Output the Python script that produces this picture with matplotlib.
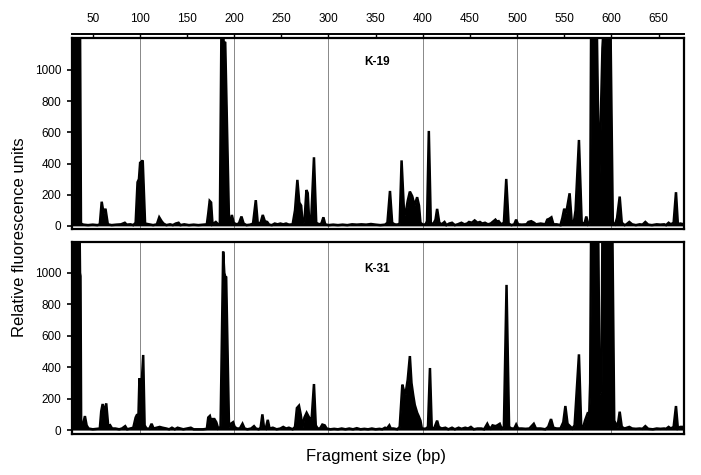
import matplotlib
matplotlib.use("Agg")
import matplotlib.pyplot as plt
import numpy as np

plt.rcParams['font.family'] = ['Liberation Sans', 'DejaVu Sans']

# ---- data: electropherogram traces (fragment size bp, relative fluorescence units) ----
k19_trace = [
    (28.5, 10), (29.5, 1300), (36.5, 1300), (37.5, 15), (40, 8), (45, 5), (50, 8), (55, 5),
    (57.5, 10), (59.5, 155), (61.5, 80), (63.5, 110), (66, 10), (70, 5), (75, 8), (80, 10),
    (84, 20), (86, 8), (90, 10), (93, 5), (95.5, 20), (97.5, 280), (99, 300), (100.3, 410),
    (101, 405), (103, 420), (105.5, 15), (110, 10), (114, 5), (118, 10), (120.5, 55), (123, 30),
    (125, 15), (128, 5), (132, 10), (135, 5), (138, 15), (141, 20), (143, 5), (147, 10),
    (152, 5), (157, 8), (162, 5), (167, 8), (171, 10), (172.5, 80), (174, 160), (175.5, 150),
    (177, 10), (180.5, 25), (183, 10), (184.8, 10), (186.5, 1300), (188, 1300), (188.8, 1180),
    (190.5, 1175), (194.5, 30), (196, 20), (197.5, 70), (199.5, 20), (202, 10), (205, 15),
    (207.7, 60), (210, 15), (213, 5), (217, 8), (220, 15), (222.9, 165), (225, 15), (228, 20),
    (230.3, 70), (232.5, 30), (235, 25), (237, 8), (240, 5), (243, 15), (246, 10), (249, 15),
    (252, 10), (255, 15), (258, 8), (262, 10), (264.5, 100), (267, 295), (269, 150), (271, 130),
    (272.5, 20), (274.5, 30), (276.6, 230), (278, 210), (279.5, 30), (281.5, 20), (284.6, 440),
    (287, 20), (290, 10), (292.5, 15), (294.6, 55), (296.5, 10), (300, 5), (305, 8), (310, 5),
    (315, 8), (320, 5), (325, 10), (330, 8), (335, 10), (340, 8), (345, 12), (350, 8), (355, 5),
    (360, 8), (362.5, 20), (365.2, 224), (367.5, 20), (370, 10), (373, 8), (375.5, 15),
    (377.5, 420), (380, 100), (381.5, 70), (384, 160), (386.3, 220), (388.8, 190), (391.3, 130),
    (394, 184), (396, 130), (397.5, 20), (400, 8), (403, 10), (404.5, 30), (406.4, 609),
    (408.5, 20), (411, 10), (413.5, 40), (415.2, 109), (417.5, 20), (420, 10), (423, 25),
    (425, 5), (428, 15), (431, 20), (434, 5), (437, 10), (441, 20), (444, 10), (447, 15),
    (449, 25), (452, 20), (455, 35), (458, 20), (460.6, 25), (463, 15), (466, 20), (469, 10),
    (472, 15), (475, 30), (477, 40), (479, 25), (480.5, 30), (483, 10), (486, 20), (488.5, 301),
    (491, 15), (494, 5), (497, 10), (499, 40), (501, 10), (505, 8), (510, 10), (512, 25),
    (515, 30), (518, 20), (520, 10), (525, 15), (530, 10), (532, 40), (534, 45), (536.4, 55),
    (538.5, 10), (542, 10), (546, 5), (548, 50), (550, 110), (552, 80), (555.7, 209), (558, 20),
    (560, 15), (562, 100), (565.6, 551), (568.5, 20), (571.5, 15), (573.4, 60), (575.5, 10),
    (577.5, 20), (578.5, 1300), (584.5, 1300), (587, 230), (590.5, 1140), (592, 1300),
    (599, 1300), (601.5, 20), (604, 10), (606, 50), (608.8, 188), (611, 20), (614, 5), (616, 10),
    (619, 25), (622, 10), (626, 5), (630, 10), (633, 8), (636, 25), (639, 8), (643, 5), (648, 10),
    (652, 8), (656, 10), (658, 5), (660.7, 20), (663, 10), (666, 20), (668.5, 216), (670.5, 10),
    (673, 15), (677, 10),
]

k31_trace = [
    (28.5, 10), (29.5, 1300), (36, 1300), (36.5, 1000), (37, 980), (37.7, 20), (39.5, 30),
    (41.7, 89), (43.5, 30), (45.5, 10), (50, 5), (55, 8), (57.5, 10), (59, 120), (60.5, 166),
    (62, 110), (64.3, 170), (66.5, 20), (68.5, 30), (70.5, 10), (74, 10), (78, 5), (81, 10),
    (84.4, 25), (86.5, 5), (90, 10), (93, 15), (95.5, 80), (96.8, 96), (98.5, 100), (99.5, 329),
    (101.5, 250), (103.5, 478), (105, 30), (107, 10), (110, 8), (112.4, 40), (114.5, 10),
    (118, 15), (121, 20), (124, 15), (128, 10), (131, 5), (134, 15), (137, 5), (140, 15),
    (143, 10), (146, 5), (150, 10), (154, 15), (157, 5), (162, 5), (167, 5), (171, 8),
    (172.5, 80), (174.2, 90), (175.5, 60), (177, 70), (179, 70), (181, 50), (183, 10),
    (185.5, 20), (186.5, 400), (188.3, 1136), (189.5, 1000), (190.8, 970), (191.5, 970),
    (194.5, 20), (196.5, 40), (198.8, 50), (200.5, 20), (203, 10), (206, 10), (208.8, 40),
    (211, 10), (214, 5), (218, 10), (221, 25), (223, 10), (226, 5), (228, 15), (229.9, 100),
    (231.5, 20), (233.5, 10), (235.6, 65), (237.5, 10), (241, 15), (245, 5), (249, 10),
    (252, 20), (255, 10), (258, 15), (262, 5), (264.5, 20), (266.5, 140), (268.7, 155),
    (270.5, 100), (272.5, 20), (274.5, 80), (276.8, 110), (278.5, 90), (280.3, 70), (282, 60),
    (284.6, 293), (286.5, 30), (288.5, 10), (291, 10), (293.5, 35), (296, 30), (298, 10),
    (302, 5), (306, 8), (310, 5), (314, 10), (318, 5), (322, 10), (326, 5), (330, 12), (334, 5),
    (338, 8), (342, 5), (346, 10), (350, 5), (354, 8), (357, 5), (360, 15), (362, 10),
    (364.5, 30), (366, 10), (369, 10), (373, 5), (375.5, 20), (378.3, 289), (380, 250),
    (381.7, 230), (384, 320), (386.3, 471), (388, 300), (389.8, 223), (391.5, 160), (394, 110),
    (395.5, 90), (397.5, 60), (399, 10), (403, 8), (405.5, 20), (407.6, 395), (409.5, 15),
    (412, 10), (415.2, 60), (417, 20), (420, 10), (424, 15), (427, 5), (431, 15), (434, 5),
    (438, 15), (441, 8), (445, 15), (448, 10), (451, 20), (454, 5), (458, 10), (462, 10),
    (465, 5), (468.4, 40), (470, 20), (472, 10), (474, 30), (477, 25), (479, 30), (481.6, 40),
    (483.5, 10), (486, 20), (488.8, 924), (491.5, 20), (494, 10), (497, 10), (499, 35),
    (501, 10), (505, 10), (509, 8), (513, 10), (517.7, 40), (520, 10), (525, 10), (530, 5),
    (533, 20), (536, 70), (538.5, 15), (542, 10), (546, 10), (549, 50), (551.2, 153),
    (553.5, 40), (556, 25), (558.5, 10), (561, 30), (565.6, 482), (568, 20), (570, 15),
    (572, 60), (574.8, 106), (576.5, 100), (577.5, 300), (578.5, 1300), (586, 1300),
    (587.5, 230), (589.5, 250), (590.5, 1300), (601, 1300), (603, 60), (606.5, 20),
    (608.8, 117), (611, 20), (614, 10), (619, 20), (622, 10), (626, 8), (630, 10), (633, 8),
    (636, 25), (639, 8), (644, 5), (648, 10), (652, 8), (656, 10), (658, 8), (660.7, 20),
    (663, 10), (666, 20), (668.5, 153), (670.5, 10), (673, 20), (677, 20),
]

sample_names = ["K-19", "K-31"]
x_ticks = [50, 100, 150, 200, 250, 300, 350, 400, 450, 500, 550, 600, 650]
grid_lines = [100, 200, 300, 400, 500, 600]
y_ticks = [0, 200, 400, 600, 800, 1000]

# ---- figure ----
fig = plt.figure(figsize=(7.01, 4.75), dpi=100)
ax1 = fig.add_axes([72/701, 1 - 229/475, 612/701, 191/475])
ax2 = fig.add_axes([72/701, 1 - 434/475, 612/701, 192/475])

xlim = (28, 677)
ylims = [(-20, 1205), (-25, 1197)]
label_y = [1050, 1025]

for ax, trace, name, yl, ly in zip([ax1, ax2], [k19_trace, k31_trace], sample_names, ylims, label_y):
    xs = np.array([p[0] for p in trace])
    ys = np.array([p[1] for p in trace])
    for g in grid_lines:
        ax.axvline(g, color='#888888', lw=0.7, zorder=1)
    ax.fill_between(xs, 0, ys, color='black', lw=0, zorder=2)
    ax.plot(xs, ys, color='black', lw=1.8, zorder=3, solid_joinstyle='miter')
    ax.set_xlim(*xlim)
    ax.set_ylim(*yl)
    ax.set_yticks(y_ticks)
    ax.set_xticks([])
    ax.tick_params(axis='y', direction='out', length=3.5, width=1.2, labelsize=8.5, pad=4)
    for s in ax.spines.values():
        s.set_linewidth(1.6)
    ax.text(351, ly, name, fontsize=8.5, fontweight='bold', ha='center', va='center')

sec = ax1.secondary_xaxis(1.022)
sec.set_xticks(x_ticks)
sec.tick_params(axis='x', direction='in', length=2, width=1.0, labelsize=8.5, pad=6)
sec.spines['top'].set_linewidth(1.4)

fig.text(0.028, (475 - 237) / 475, "Relative fluorescence units", rotation=90,
         ha='center', va='center', fontsize=12)
fig.text(376 / 701, 1 - 456 / 475, "Fragment size (bp)", ha='center', va='center', fontsize=12)

fig.savefig("out.png", dpi=100)
